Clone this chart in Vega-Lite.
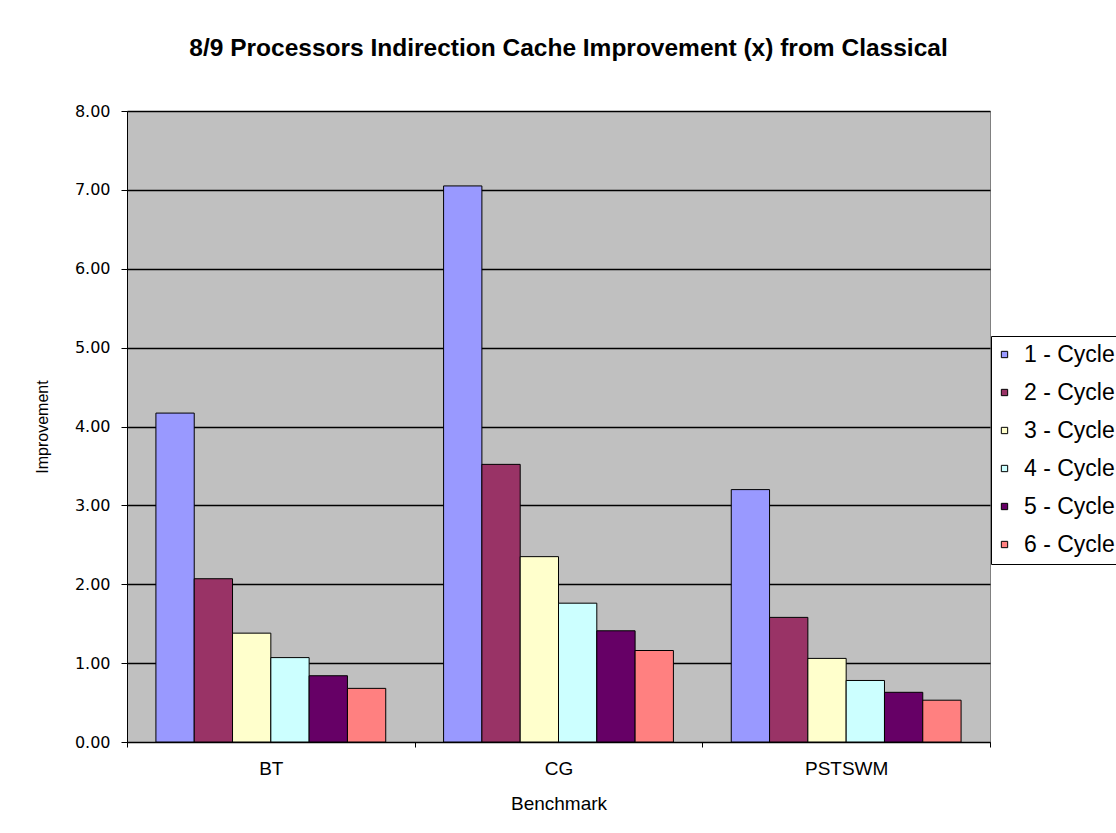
{
  "$schema": "https://vega.github.io/schema/vega-lite/v6.json",
  "autosize": "none",
  "width": 863,
  "height": 631,
  "padding": {"left": 127, "top": 111, "right": 126, "bottom": 91},
  "background": "white",
  "title": {
    "text": "8/9 Processors Indirection Cache Improvement (x) from Classical",
    "font": "Liberation Sans",
    "fontSize": 24.5,
    "fontWeight": "bold",
    "color": "black",
    "anchor": "middle",
    "dx": 10,
    "offset": 42
  },
  "config": {
    "view": {"fill": "#C0C0C0", "stroke": "#808080", "strokeWidth": 1}
  },
  "data": {
    "values": [
      {"benchmark": "BT", "cycle": "1 - Cycle", "value": 4.17},
      {"benchmark": "BT", "cycle": "2 - Cycle", "value": 2.07},
      {"benchmark": "BT", "cycle": "3 - Cycle", "value": 1.38},
      {"benchmark": "BT", "cycle": "4 - Cycle", "value": 1.07},
      {"benchmark": "BT", "cycle": "5 - Cycle", "value": 0.84},
      {"benchmark": "BT", "cycle": "6 - Cycle", "value": 0.68},
      {"benchmark": "CG", "cycle": "1 - Cycle", "value": 7.05},
      {"benchmark": "CG", "cycle": "2 - Cycle", "value": 3.52},
      {"benchmark": "CG", "cycle": "3 - Cycle", "value": 2.35},
      {"benchmark": "CG", "cycle": "4 - Cycle", "value": 1.76},
      {"benchmark": "CG", "cycle": "5 - Cycle", "value": 1.41},
      {"benchmark": "CG", "cycle": "6 - Cycle", "value": 1.16},
      {"benchmark": "PSTSWM", "cycle": "1 - Cycle", "value": 3.2},
      {"benchmark": "PSTSWM", "cycle": "2 - Cycle", "value": 1.58},
      {"benchmark": "PSTSWM", "cycle": "3 - Cycle", "value": 1.06},
      {"benchmark": "PSTSWM", "cycle": "4 - Cycle", "value": 0.78},
      {"benchmark": "PSTSWM", "cycle": "5 - Cycle", "value": 0.63},
      {"benchmark": "PSTSWM", "cycle": "6 - Cycle", "value": 0.53}
    ]
  },
  "mark": {"type": "bar", "stroke": "black", "strokeWidth": 1},
  "encoding": {
    "x": {
      "field": "benchmark",
      "type": "nominal",
      "sort": ["BT", "CG", "PSTSWM"],
      "scale": {"paddingInner": 0, "paddingOuter": 0},
      "axis": {
        "title": "Benchmark",
        "labelAngle": 0,
        "tickBand": "extent",
        "tickSize": 5,
        "tickColor": "black",
        "domainColor": "black",
        "labelFont": "Liberation Sans",
        "labelFontSize": 19,
        "labelColor": "black",
        "labelPadding": 12,
        "titleFont": "Liberation Sans",
        "titleFontSize": 19,
        "titleFontWeight": "normal",
        "titleColor": "black",
        "titlePadding": 16
      }
    },
    "xOffset": {
      "field": "cycle",
      "type": "nominal",
      "scale": {"paddingInner": 0, "paddingOuter": 0.755}
    },
    "y": {
      "field": "value",
      "type": "quantitative",
      "scale": {"domain": [0, 8], "nice": false},
      "axis": {
        "title": "Improvement",
        "format": ".2f",
        "values": [0, 1, 2, 3, 4, 5, 6, 7, 8],
        "grid": true,
        "gridColor": "black",
        "gridWidth": 1.5,
        "gridOpacity": 1,
        "tickSize": 6,
        "tickColor": "black",
        "domainColor": "black",
        "labelFont": "DejaVu Sans",
        "labelFontSize": 16,
        "labelColor": "black",
        "labelPadding": 11,
        "titleFont": "Liberation Sans",
        "titleFontSize": 16,
        "titleFontWeight": "normal",
        "titleColor": "black",
        "titlePadding": 24
      }
    },
    "fill": {
      "field": "cycle",
      "type": "nominal",
      "scale": {
        "domain": ["1 - Cycle", "2 - Cycle", "3 - Cycle", "4 - Cycle", "5 - Cycle", "6 - Cycle"],
        "range": ["#9999FF", "#993366", "#FFFFCC", "#CCFFFF", "#660066", "#FF8080"]
      },
      "legend": {
        "title": null,
        "orient": "none",
        "legendX": 864,
        "legendY": 225,
        "fillColor": "white",
        "strokeColor": "black",
        "padding": 7,
        "symbolType": "square",
        "symbolSize": 40,
        "symbolOffset": -5,
        "symbolStrokeColor": "black",
        "symbolStrokeWidth": 1,
        "labelFont": "Liberation Sans",
        "labelFontSize": 23,
        "labelColor": "black",
        "rowPadding": 14,
        "labelOffset": 8
      }
    }
  }
}
